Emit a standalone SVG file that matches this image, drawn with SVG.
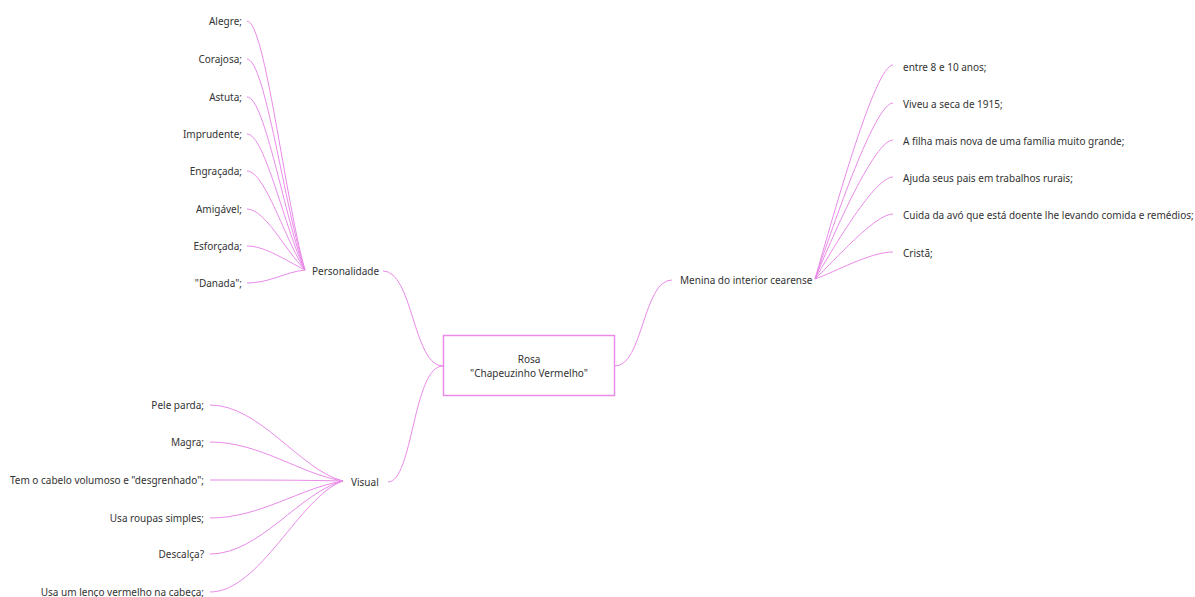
<svg xmlns="http://www.w3.org/2000/svg" width="1195" height="597" viewBox="0 0 1195 597">
<style>
text{font-family:"Noto Sans","Open Sans",sans-serif;font-size:10px;fill:#333;dominant-baseline:central}
.l{text-anchor:end}
.c{text-anchor:middle}
.e{fill:none;stroke:#e98be9;stroke-width:1}
</style>
<rect width="1195" height="597" fill="#fff"/>
<g id="connectors">
<path class="e" d="M383,271 C413,271 413,366 443,366"/>
<path class="e" d="M388,482 C413,482 413,366 443,366"/>
<path class="e" d="M615,366 C643,366 643,280 672,280"/>
<path class="e" d="M247,21 C265,21 285,200 305,270"/>
<path class="e" d="M247,59 C265,59 285,210 305,270"/>
<path class="e" d="M247,97 C265,97 285,220 305,270"/>
<path class="e" d="M247,134 C265,134 285,230 305,270"/>
<path class="e" d="M247,171 C265,171 285,240 305,270"/>
<path class="e" d="M247,209 C265,209 285,250 305,270"/>
<path class="e" d="M247,246 C265,246 285,260 305,270"/>
<path class="e" d="M247,283 C270,283 285,272 305,270"/>
<path class="e" d="M210,405 C260,405 300,470 343,481"/>
<path class="e" d="M210,442 C260,442 300,474 343,481"/>
<path class="e" d="M210,480 C260,480 300,480 343,481"/>
<path class="e" d="M210,518 C260,518 300,488 343,481"/>
<path class="e" d="M210,554 C260,554 300,492 343,481"/>
<path class="e" d="M210,592 C260,592 300,496 343,481"/>
<path class="e" d="M893,65 C875,65 835,210 815,279"/>
<path class="e" d="M893,103 C875,103 835,220 815,279"/>
<path class="e" d="M893,140 C875,140 835,230 815,279"/>
<path class="e" d="M893,177 C875,177 835,245 815,279"/>
<path class="e" d="M893,214 C875,214 835,260 815,279"/>
<path class="e" d="M893,252 C870,252 835,272 815,279"/>
</g>
<g id="root">
<rect x="443.5" y="335.5" width="171" height="60" fill="#fff" stroke="#e98be9" stroke-width="1.5"/>
<text class="c" x="529" y="359">Rosa</text>
<text class="c" x="529" y="373">"Chapeuzinho Vermelho"</text>
</g>
<g id="personalidade"><text x="312" y="271">Personalidade</text></g>
<g id="visual"><text x="351" y="482">Visual</text></g>
<g id="menina"><text x="680" y="280">Menina do interior cearense</text></g>
<g id="p1"><text class="l" x="242" y="21">Alegre;</text></g>
<g id="p2"><text class="l" x="242" y="59">Corajosa;</text></g>
<g id="p3"><text class="l" x="242" y="97">Astuta;</text></g>
<g id="p4"><text class="l" x="242" y="134">Imprudente;</text></g>
<g id="p5"><text class="l" x="242" y="171">Engraçada;</text></g>
<g id="p6"><text class="l" x="242" y="209">Amigável;</text></g>
<g id="p7"><text class="l" x="242" y="246">Esforçada;</text></g>
<g id="p8"><text class="l" x="242" y="283">"Danada";</text></g>
<g id="v1"><text class="l" x="204" y="405">Pele parda;</text></g>
<g id="v2"><text class="l" x="204" y="442">Magra;</text></g>
<g id="v3"><text class="l" x="204" y="480">Tem o cabelo volumoso e "desgrenhado";</text></g>
<g id="v4"><text class="l" x="204" y="518">Usa roupas simples;</text></g>
<g id="v5"><text class="l" x="204" y="554">Descalça?</text></g>
<g id="v6"><text class="l" x="204" y="592">Usa um lenço vermelho na cabeça;</text></g>
<g id="m1"><text x="903" y="67">entre 8 e 10 anos;</text></g>
<g id="m2"><text x="903" y="104">Viveu a seca de 1915;</text></g>
<g id="m3"><text x="903" y="141">A filha mais nova de uma família muito grande;</text></g>
<g id="m4"><text x="903" y="178">Ajuda seus pais em trabalhos rurais;</text></g>
<g id="m5"><text x="903" y="215">Cuida da avó que está doente lhe levando comida e remédios;</text></g>
<g id="m6"><text x="903" y="253">Cristã;</text></g>
</svg>
